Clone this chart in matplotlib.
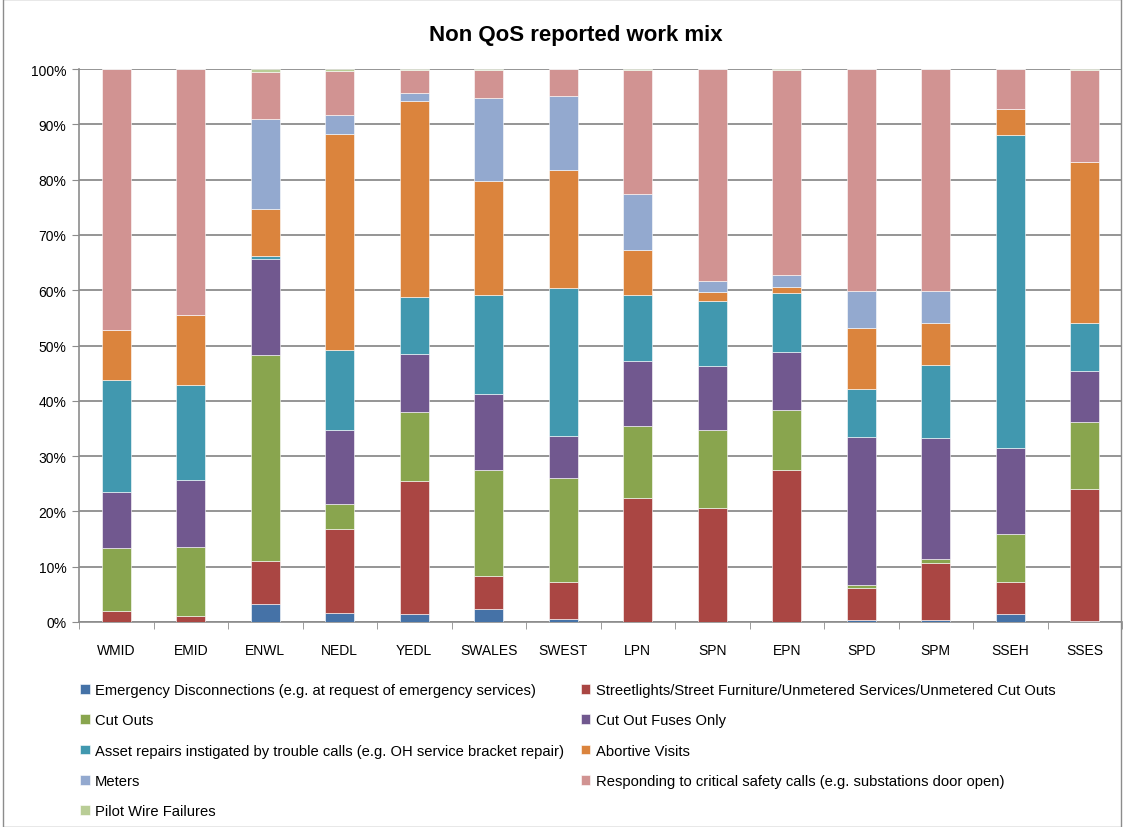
import numpy as np
import matplotlib
matplotlib.use("Agg")
from matplotlib import pyplot as plt
from matplotlib.patches import Rectangle

plt.rcParams['font.family'] = ['Liberation Sans', 'DejaVu Sans']

# Categories (DNOs)
dnos = ["WMID", "EMID", "ENWL", "NEDL", "YEDL", "SWALES", "SWEST",
        "LPN", "SPN", "EPN", "SPD", "SPM", "SSEH", "SSES"]

# Work types, in stacking order, with values in percent
labels = [
    "Emergency Disconnections (e.g. at request of emergency services)",
    "Streetlights/Street Furniture/Unmetered Services/Unmetered Cut Outs",
    "Cut Outs",
    "Cut Out Fuses Only",
    "Asset repairs instigated by trouble calls (e.g. OH service bracket repair)",
    "Abortive Visits",
    "Meters",
    "Responding to critical safety calls (e.g. substations door open)",
    "Pilot Wire Failures",
]

emergency   = [0.0, 0.0, 3.2, 1.6, 1.5, 2.3, 0.5, 0.0, 0.0, 0.0, 0.3, 0.3, 1.5, 0.1]
streetlight = [2.0, 1.0, 7.75, 15.2, 24.0, 6.0, 6.8, 22.5, 20.7, 27.4, 5.9, 10.45, 5.8, 24.0]
cut_outs    = [11.35, 12.5, 37.3, 4.6, 12.4, 19.2, 18.7, 13.0, 14.1, 10.9, 0.5, 0.65, 8.7, 12.0]
fuses       = [10.2, 12.2, 17.4, 13.4, 10.6, 13.8, 7.7, 11.7, 11.5, 10.6, 26.8, 21.9, 15.4, 9.2]
asset       = [20.1, 17.1, 0.5, 14.4, 10.2, 17.8, 26.7, 11.9, 11.7, 10.6, 8.7, 13.2, 56.6, 8.8]
abortive    = [9.1, 12.8, 8.6, 39.0, 35.6, 20.6, 21.3, 8.2, 1.7, 1.0, 11.0, 7.6, 4.7, 29.1]
meters      = [0.0, 0.0, 16.3, 3.45, 1.4, 15.0, 13.4, 10.1, 2.0, 2.3, 6.7, 5.7, 0.0, 0.0]
critical    = [47.2, 44.4, 8.5, 8.05, 4.2, 5.2, 4.9, 22.5, 38.3, 37.1, 40.1, 40.2, 7.3, 16.7]
pilot       = [0.0, 0.0, 0.5, 0.3, 0.1, 0.1, 0.0, 0.1, 0.0, 0.1, 0.0, 0.0, 0.0, 0.1]

series = [emergency, streetlight, cut_outs, fuses, asset, abortive, meters, critical, pilot]
colors = ["#4572A7", "#AA4643", "#89A54E", "#71588F", "#4198AF",
          "#DB843D", "#93A9CF", "#D19392", "#B9CD96"]

fig = plt.figure(figsize=(11.24, 8.28), dpi=100)
ax = fig.add_axes([79 / 1124, 205 / 828, 1043 / 1124, 553 / 828])

x = np.arange(len(dnos))
data = np.array(series, dtype=float)
data = data / data.sum(axis=0) * 100.0
bottom = np.zeros(len(dnos))
handles = []
for vals, col, lab in zip(data, colors, labels):
    h = ax.bar(x, vals, 0.39, bottom=bottom, color=col, edgecolor="white",
               linewidth=0.4, label=lab, zorder=3)
    handles.append(h)
    bottom += vals

ax.set_xlim(-0.5, len(dnos) - 0.5)
ax.set_ylim(0, 100)
ax.set_yticks(np.arange(0, 101, 10))
ax.set_yticklabels(["%d%%" % v for v in range(0, 101, 10)], fontsize=10)
ax.yaxis.grid(True, color="#8c8c8c", linewidth=1.3, zorder=0)
ax.set_xticks(x)
ax.set_xticklabels(dnos, fontsize=10)
ax.set_xticks(np.arange(-0.5, len(dnos)), minor=True)
ax.tick_params(axis="x", which="major", length=0, pad=15)
ax.tick_params(axis="x", which="minor", length=5, color="#8c8c8c")
ax.tick_params(axis="y", length=5, color="#8c8c8c", pad=4)
for s in ["top", "right"]:
    ax.spines[s].set_visible(False)
for s in ["left", "bottom"]:
    ax.spines[s].set_color("#8c8c8c")
    ax.spines[s].set_linewidth(1.2)

fig.text(576 / 1124, 1 - 35 / 828, "Non QoS reported work mix", ha="center",
         va="center", fontsize=16, fontweight="bold")

order = [0, 2, 4, 6, 8, 1, 3, 5, 7]
fig.legend([handles[i] for i in order], [labels[i] for i in order],
           loc="upper left", bbox_to_anchor=(67 / 1124, 1 - 671 / 828),
           ncol=2, frameon=False, fontsize=10.6, handlelength=0.65,
           handleheight=0.65, handletextpad=0.35, labelspacing=1.1,
           columnspacing=1.15)

fig.patches.append(Rectangle((3 / 1124, 0), 1 - 6 / 1124, 1, transform=fig.transFigure,
                             fill=False, edgecolor="#8c8c8c", linewidth=1.0))

fig.savefig("out.png", dpi=100)
